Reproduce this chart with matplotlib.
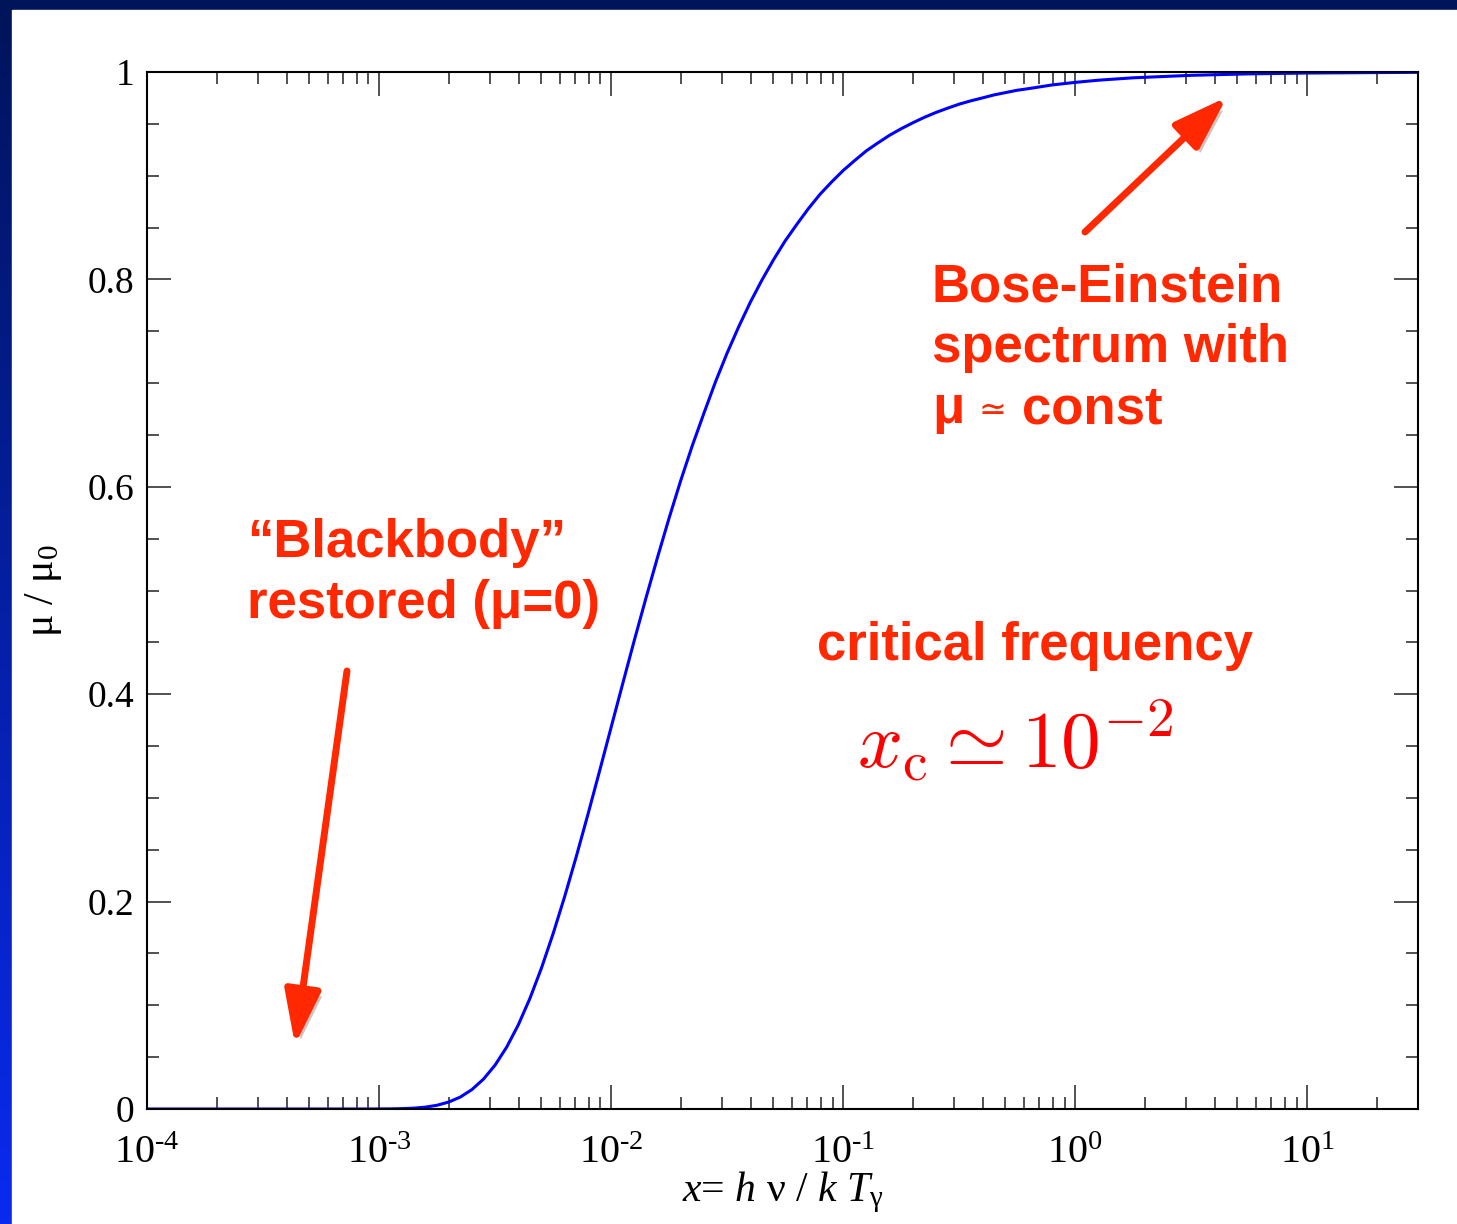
import matplotlib
matplotlib.use("Agg")
import matplotlib.pyplot as plt
import matplotlib.patheffects as pe
from matplotlib.ticker import FixedLocator, FuncFormatter, LogLocator, NullFormatter
import numpy as np

# curve: x = h nu / k T_gamma, y = mu / mu_0
x_vals = [1e-4, 3.98e-4, 7.943e-4, 1e-3, 1.122e-3, 1.259e-3, 1.413e-3, 1.585e-3,
          1.778e-3, 1.995e-3, 2.239e-3, 2.512e-3, 2.818e-3, 3.162e-3, 3.548e-3,
          3.981e-3, 4.467e-3, 5.012e-3, 5.623e-3, 6.31e-3, 7.079e-3, 7.943e-3,
          8.913e-3, 1e-2, 1.122e-2, 1.259e-2, 1.413e-2, 1.585e-2, 1.778e-2,
          1.995e-2, 2.239e-2, 2.512e-2, 2.818e-2, 3.162e-2, 3.548e-2, 3.981e-2,
          4.467e-2, 5.012e-2, 5.623e-2, 6.31e-2, 7.079e-2, 7.943e-2, 8.913e-2,
          0.1, 0.1122, 0.1259, 0.1413, 0.1585, 0.1778, 0.1995, 0.2239, 0.2512,
          0.2818, 0.3162, 0.3548, 0.3981, 0.4467, 0.5623, 0.631, 0.7943, 1.0,
          1.259, 1.778, 3.162, 5.623, 10.0, 30.0]
y_vals = [0.0, 0.0, 0.000003, 0.00005, 0.000135, 0.00036, 0.00084, 0.0018,
          0.0036, 0.0067, 0.0115, 0.0187, 0.0288, 0.0423, 0.0597,
          0.0811, 0.1066, 0.136, 0.169, 0.205, 0.2435, 0.284,
          0.3257, 0.368, 0.4102, 0.452, 0.4927, 0.532, 0.5699,
          0.606, 0.6398, 0.671, 0.7013, 0.729, 0.7544, 0.778,
          0.7994, 0.819, 0.8371, 0.853, 0.8682, 0.882, 0.8939,
          0.905, 0.9147, 0.924, 0.9317, 0.939, 0.9453, 0.951, 0.9563, 0.961,
          0.9651, 0.969, 0.9722, 0.975, 0.9779, 0.9824, 0.984, 0.9875, 0.990,
          0.9921, 0.9944, 0.9968, 0.9982, 0.999, 0.9997]

y_ticks = [0, 0.2, 0.4, 0.6, 0.8, 1.0]
y_ticklabels = ["0", "0.2", "0.4", "0.6", "0.8", "1"]

RED = "#ff2800"
W, H = 1457, 1224

plt.rcParams["mathtext.fontset"] = "custom"
plt.rcParams["mathtext.rm"] = "Liberation Serif"
plt.rcParams["mathtext.it"] = "Liberation Serif:italic"
plt.rcParams["mathtext.bf"] = "Liberation Serif:bold"


def fx(px):
    return px / W


def fy(py):
    return 1 - py / H


fig = plt.figure(figsize=(W / 100, H / 100), dpi=100)

# blue slide border: navy band on top, vertical gradient on the left
bg = fig.add_axes([0, 0, 1, 1])
bg.set_xlim(0, W)
bg.set_ylim(H, 0)
bg.axis("off")
grad = np.linspace(0, 1, 256).reshape(-1, 1)
top_c = np.array([0, 20, 90]) / 255
bot_c = np.array([10, 42, 240]) / 255
img = top_c + grad[..., None] * (bot_c - top_c)
bg.imshow(img, extent=[0, W, H, 0], aspect="auto")
bg.add_patch(plt.Rectangle((12, 10), W - 12, H - 10, color="white", zorder=2))

ax = fig.add_axes([fx(147), fy(1109), fx(1418) - fx(147), fy(72) - fy(1109)])
ax.set_facecolor("white")
ax.plot(x_vals, y_vals, color="#0000ff", lw=2.2)
ax.set_xscale("log")
ax.set_xlim(1e-4, 30)
ax.set_ylim(0, 1)

ax.xaxis.set_major_locator(LogLocator(base=10, numticks=10))
ax.xaxis.set_minor_locator(LogLocator(base=10, subs=np.arange(2, 10), numticks=20))
ax.xaxis.set_minor_formatter(NullFormatter())
ax.xaxis.set_major_formatter(
    FuncFormatter(lambda v, p: r"$10^{\text{-}%d}$" % round(-np.log10(v))
                  if v < 1 else r"$10^{%d}$" % round(np.log10(v))))
ax.yaxis.set_major_locator(FixedLocator(y_ticks))
ax.yaxis.set_minor_locator(FixedLocator(np.arange(0, 1.0001, 0.05)))
ax.set_yticklabels(y_ticklabels)

ax.tick_params(which="both", direction="in", top=True, right=True, width=1.1, color="#222222")
ax.tick_params(which="major", length=17)
ax.tick_params(which="minor", length=8.5)
ax.tick_params(axis="y", labelsize=27, pad=9)
ax.tick_params(axis="x", labelsize=29, pad=19)
for lab in ax.get_yticklabels() + ax.get_xticklabels():
    lab.set_family("Liberation Serif")
for s in ax.spines.values():
    s.set_linewidth(1.5)

# axis titles placed where the reference has them
fig.text(fx(783), fy(1201), r"$x$= $h$ $\mathrm{\nu}$ / $k$ $T_{\mathrm{\gamma}}$",
         fontsize=30, family="Liberation Serif", ha="center", va="baseline")
ax.set_ylabel(r"$\mathrm{\mu}$ / $\mathrm{\mu}_0$", fontsize=30,
              family="Liberation Serif", labelpad=17)

# annotations
tk = dict(color=RED, fontsize=38, fontweight="bold",
          family=["Liberation Sans", "DejaVu Sans"], va="baseline", ha="left")
fig.text(fx(932), fy(302), "Bose-Einstein", **tk)
fig.text(fx(932), fy(362), "spectrum with", **tk)
fig.text(fx(932), fy(423), "μ", **tk)
fig.text(fx(978), fy(420), "≃", color=RED, fontsize=24, family="DejaVu Sans",
         va="baseline", ha="left")
fig.text(fx(1022), fy(423), "const", **tk)
fig.text(fx(247), fy(557), "“Blackbody”", **tk)
fig.text(fx(247), fy(618), "restored (μ=0)", **tk)
fig.text(fx(817), fy(660), "critical frequency", **tk)
fig.text(fx(1015), fy(740), r"$x_\mathrm{c} \simeq 10^{-2}$", color="#ff0000",
         fontsize=57, math_fontfamily="cm", ha="center", va="center")

for tail, head in [((1085, 232), (1227, 97)), ((347, 671), (295, 1045))]:
    a = ax.annotate("", xy=(fx(head[0]), fy(head[1])), xycoords="figure fraction",
                    xytext=(fx(tail[0]), fy(tail[1])), textcoords="figure fraction",
                    arrowprops=dict(arrowstyle="-|>,head_length=1.5,head_width=0.5",
                                    color=RED, lw=5, mutation_scale=22,
                                    shrinkA=0, shrinkB=0))
    a.arrow_patch.set_path_effects([pe.SimplePatchShadow(offset=(3, -4), alpha=0.25),
                                    pe.Normal()])

fig.savefig("out.png", dpi=100)
